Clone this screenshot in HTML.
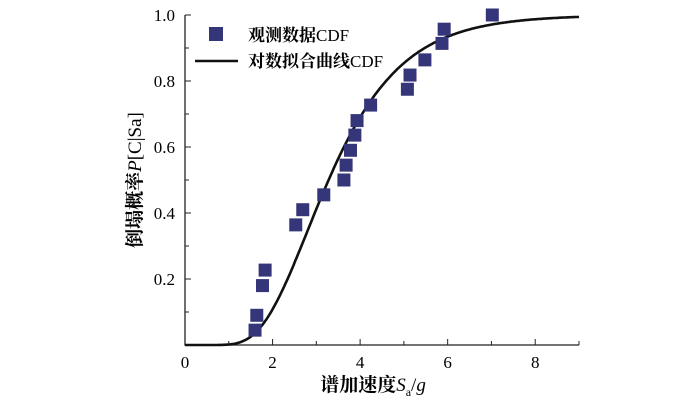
<!DOCTYPE html>
<html><head><meta charset="utf-8"><style>
body{margin:0;background:#fff}
svg{display:block;font-family:"Liberation Serif","Noto Serif CJK SC",serif}
</style></head><body>
<svg width="700" height="402" viewBox="0 0 700 402">
<g id="axes"></g><g id="curve"></g><g id="pts"></g>
<g>
<rect x="209" y="27" width="14" height="14" fill="#35367a"/>
<text x="248" y="41" font-size="17" font-weight="bold">观测数据<tspan font-weight="normal">CDF</tspan></text>
<line x1="195" y1="61" x2="238" y2="61" stroke="#111" stroke-width="2.6"/>
<text x="248" y="67" font-size="17" font-weight="bold">对数拟合曲线<tspan font-weight="normal">CDF</tspan></text>
</g>
<text transform="translate(141,180) rotate(-90)" text-anchor="middle" font-size="19"><tspan font-weight="bold">倒塌概率</tspan><tspan font-style="italic">P</tspan>[C|Sa]</text>
<text x="373" y="391" text-anchor="middle" font-size="19"><tspan font-weight="bold">谱加速度</tspan><tspan font-style="italic">S</tspan><tspan font-size="12" dy="5">a</tspan><tspan dy="-5">/</tspan><tspan font-style="italic">g</tspan></text>
</svg>
<script>
const obsX=[1.60,1.64,1.77,1.83,2.53,2.69,3.17,3.63,3.68,3.78,3.88,3.93,4.24,5.08,5.14,5.48,5.87,5.92,7.02];
const obsY=[0.045,0.09,0.18,0.227,0.364,0.41,0.455,0.50,0.545,0.59,0.636,0.68,0.727,0.775,0.818,0.864,0.914,0.957,1.0];
const fitMedian=3.28, fitBeta=0.40;
const xTicks=[0,2,4,6,8];
const yTicks=[0.2,0.4,0.6,0.8,1.0];
const X0=185,X1=579,Y0=345,Y1=15;
const sx=v=>X0+v*(X1-X0)/9, sy=v=>Y0-v*(Y0-Y1);
const NS='http://www.w3.org/2000/svg';
function mk(t,a,p){const e=document.createElementNS(NS,t);for(const k in a)e.setAttribute(k,a[k]);p.appendChild(e);return e;}
const ax=document.getElementById('axes');
let l=mk('path',{d:`M${X0},${Y1} V${Y0} H${X1}`,fill:'none',stroke:'#222','stroke-width':1.3},ax);


for(let i=1;i<=9;i++){let t=mk('line',{x1:sx(i),x2:sx(i),y1:Y0,y2:Y0-(i%2?4:6),stroke:'#222'},ax);

}
for(let i=1;i<=10;i++){let t=mk('line',{x1:X0,x2:X0+(i%2?4:6),y1:sy(i/10),y2:sy(i/10),stroke:'#222'},ax);

}
xTicks.forEach(v=>{let t=mk('text',{x:sx(v),y:368,'text-anchor':'middle','font-size':17},ax);t.textContent=v;

});
yTicks.forEach(v=>{let t=mk('text',{x:175,y:sy(v)+6,'text-anchor':'end','font-size':17},ax);t.textContent=v.toFixed(1);

});
function erf(x){const s=Math.sign(x);x=Math.abs(x);const t=1/(1+0.3275911*x);return s*(1-(((((1.061405429*t-1.453152027)*t)+1.421413741)*t-0.284496736)*t+0.254829592)*t*Math.exp(-x*x));}
const Phi=z=>0.5*(1+erf(z/Math.SQRT2));
let d='';for(let i=0;i<=360;i++){const x=i*9/360;const p=x<=0?0:Phi(Math.log(x/fitMedian)/fitBeta);d+=(i?'L':'M')+sx(x).toFixed(1)+','+sy(p).toFixed(1);}
let c=mk('path',{d:d,fill:'none',stroke:'#111','stroke-width':2.6},document.getElementById('curve'));


const pg=document.getElementById('pts');
obsX.forEach((x,i)=>{let r=mk('rect',{x:sx(x)-6.5,y:sy(obsY[i])-6.5,width:13,height:13,fill:'#35367a'},pg);

});
</script>
</body></html>
